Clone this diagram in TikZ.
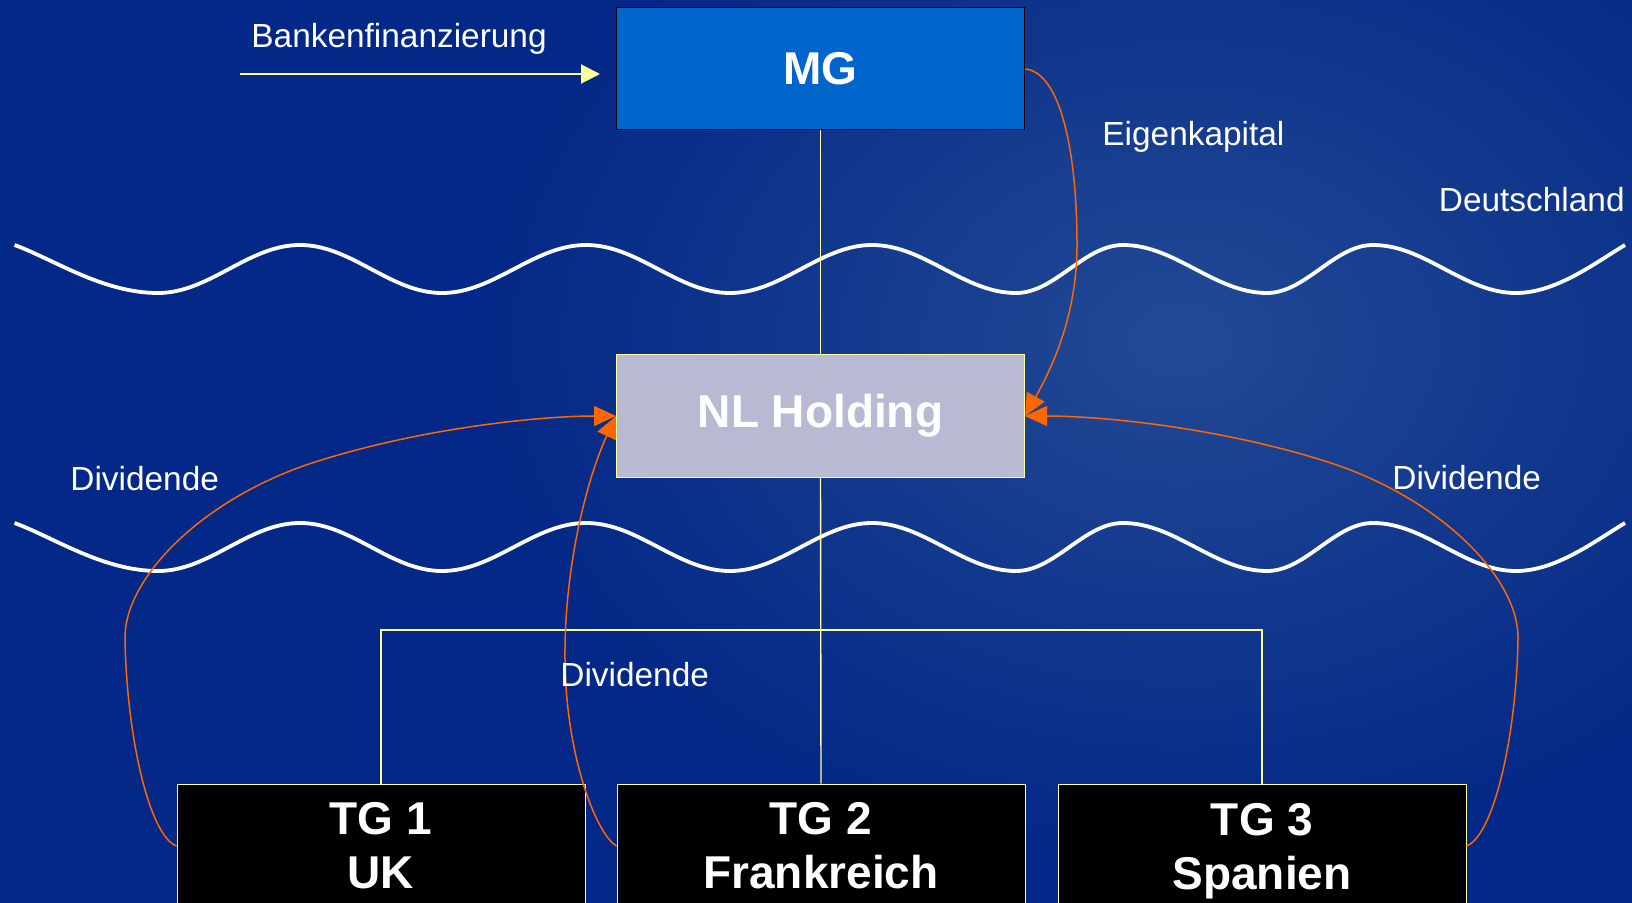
\documentclass[tikz,border=0pt]{standalone}
\usepackage{fontspec}
\setmainfont{Liberation Sans}
\usetikzlibrary{arrows.meta}
\definecolor{bgbase}{RGB}{3,40,135}
\definecolor{bglight}{RGB}{34,74,148}
\definecolor{mgblue}{RGB}{0,102,204}
\definecolor{nlgrey}{RGB}{184,186,212}
\definecolor{paleyellow}{RGB}{255,255,153}
\definecolor{flowor}{RGB}{255,102,0}
\newcommand\wavepath{(14.6,245) .. controls (55,260) and (103,293) .. (158,293)
  cos (229,269) sin (300,245) cos (371,269) sin (442,293)
  cos (514,269) sin (586,245) cos (658,269) sin (730,293)
  cos (801,269) sin (872,245) cos (944,269) sin (1016,293)
  cos (1069.5,269) sin (1123,245) cos (1195,269) sin (1267,293)
  cos (1320,269) sin (1373,245) cos (1444.5,269) sin (1516,293)
  .. controls (1556,293) and (1595,263) .. (1625,245)}
\begin{document}
\begin{tikzpicture}[x=0.5pt,y=-0.5pt,
  orgbox/.style={minimum width=204pt,minimum height=61pt,inner sep=0pt,line width=0.5pt,
    text=white,align=center,font=\fontsize{23}{27}\selectfont\bfseries},
  mgstyle/.style={orgbox,fill=mgblue,draw=black},
  nlstyle/.style={orgbox,fill=nlgrey,draw=paleyellow},
  tgstyle/.style={orgbox,fill=black,draw=paleyellow,minimum height=62pt},
  lbl/.style={text=white,inner sep=0pt,font=\fontsize{16.7}{20}\selectfont},
  treeline/.style={draw=paleyellow,line width=0.7pt},
  flow/.style={draw=flowor,line width=0.75pt,-{Triangle[length=11pt,width=10pt]}},
  bankarrow/.style={draw=paleyellow,line width=1pt,-{Triangle[length=9.5pt,width=9.5pt]}},
  wave/.style={draw=white,line width=1.9pt,line cap=butt}
]
\clip (0,0) rectangle (1632,903);
\fill[bgbase] (0,0) rectangle (1632,903);
\shade[inner color=bglight,outer color=bgbase] (1180,340) ellipse [x radius=700,y radius=520];

% waves
\draw[wave] \wavepath;
\begin{scope}[yshift=-139pt]
\draw[wave] \wavepath;
\end{scope}

% boxes
\node[mgstyle] (MG) at (820.5,69) {MG};
\node[nlstyle] (NL) at (820.5,416) {NL Holding};
\node[tgstyle] (TG1) at (381,846) {TG 1\\UK};
\node[tgstyle] (TG2) at (821,846) {TG 2\\Frankreich};
\node[tgstyle] (TG3) at (1262,846) {TG 3\\\raisebox{0pt}[\height][0pt]{Spanien}};

% tree
\coordinate (branch) at (821,630);
\draw[treeline] (MG.south) -- (NL.north);
\draw[treeline] (NL.south) -- (TG2.north);
\draw[treeline] (TG1.north) |- (branch) -| (TG3.north);

% bank arrow
\coordinate (bankstart) at (240,74);
\coordinate (bankend) at (600,74);
\draw[bankarrow] (bankstart) -- (bankend);

% flows
\draw[flow] (MG.east) .. controls (1060,72) and (1077,150) .. (1077,245)
  .. controls (1077,300) and (1062,350) .. (NL.east);
\draw[flow] (TG1.west) .. controls (150,836) and (127,740) .. (125,640)
  .. controls (123,580) and (200,500) .. (312,463)
  .. controls (420,428) and (540,416) .. (NL.west);
\draw[flow] (TG2.west) .. controls (598,836) and (566,760) .. (565,660)
  .. controls (564,565) and (588,476) .. (NL.west);
\draw[flow] (TG3.east) .. controls (1493,836) and (1516,740) .. (1518,640)
  .. controls (1520,580) and (1443,500) .. (1331,463)
  .. controls (1223,428) and (1103,416) .. (NL.east);

% labels
\node[lbl,anchor=base west] (lblBank) at (251,48) {Bankenfinanzierung};
\node[lbl,anchor=base west] (lblEigen) at (1102,146) {Eigenkapital};
\node[lbl,anchor=base east] (lblDe) at (1625,212) {Deutschland};
\node[lbl,anchor=base west] (lblDivL) at (70,490) {Dividende};
\node[lbl,anchor=base west] (lblDivR) at (1392,489) {Dividende};
\node[lbl,anchor=base west] (lblDivM) at (560,686) {Dividende};
\end{tikzpicture}
\end{document}
